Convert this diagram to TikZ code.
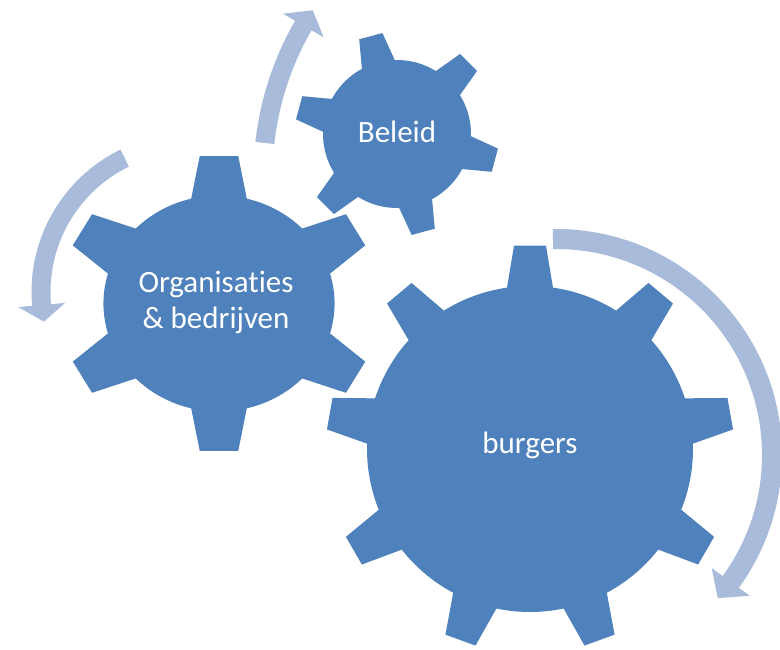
\documentclass[tikz,border=0pt]{standalone}
\usepackage{fontspec}
\setmainfont{Carlito}[Ligatures={NoCommon}]
\definecolor{gearblue}{RGB}{79,129,189}
\definecolor{arrowblue}{RGB}{168,187,218}
\tikzset{
  gearfill/.style={fill=gearblue},
  arrowfill/.style={fill=arrowblue},
  lbl/.style={text=white, align=center, font=\fontsize{31}{36}\selectfont, inner sep=0pt}
}
% #1 cx, #2 cy (screen), #3 xscale, #4 teeth, #5 first angle, #6 tip radius, #7 body radius, #8 tip half-width, #9 base half-width
\newcommand{\gearshape}[9]{%
  \begin{scope}[shift={(#1,-#2)}, xscale=#3]
    \pgfmathsetmacro{\gst}{360/#4}
    \pgfmathsetmacro{\gat}{asin(#8/#6)}
    \pgfmathsetmacro{\gab}{asin(#9/#7)}
    \pgfmathtruncatemacro{\gnn}{#4-1}
    \fill[gearfill] ({#5-\gab}:#7)
      \foreach \k in {0,...,\gnn}{
        -- ({#5+\k*\gst-\gat}:#6) -- ({#5+\k*\gst+\gat}:#6)
        -- ({#5+\k*\gst+\gab}:#7)
        arc[start angle={#5+\k*\gst+\gab}, end angle={#5+(\k+1)*\gst-\gab}, radius=#7]
      } -- cycle;
  \end{scope}}
% #1 cx, #2 cy (screen), #3 radius, #4 band half-width, #5 head half-width, #6 start angle, #7 head base angle, #8 tip angle
\newcommand{\circarrow}[8]{%
  \begin{scope}[shift={(#1,-#2)}]
    \fill[arrowfill] ({#6}:{#3+#4}) arc[start angle={#6}, end angle={#7}, radius={#3+#4}]
      -- ({#7}:{#3+#5}) -- ({#8}:{#3}) -- ({#7}:{#3-#5}) -- ({#7}:{#3-#4})
      arc[start angle={#7}, end angle={#6}, radius={#3-#4}] -- cycle;
  \end{scope}}
\begin{document}
\begin{tikzpicture}[x=1pt,y=1pt]
  \useasboundingbox (0,0) rectangle (780,-650);
  % arrows
  \circarrow{564}{176}{301}{9.5}{23.5}{173.7}{150}{146.6}
  \circarrow{190}{292}{149}{9.5}{23.5}{116}{185}{191.5}
  \circarrow{556}{455}{216}{10}{23.5}{90.8}{-36}{-41.5}
  % gears
  \gearshape{397}{134}{1}{6}{105}{102}{74}{12}{17}
  \gearshape{219}{303.5}{1.07}{6}{90}{148.5}{108}{18}{26}
  \gearshape{530}{449}{1}{9}{90}{204}{163}{16}{23}
  % labels
  \node[lbl] (bel) at (397,-132) {Beleid};
  \node[lbl] (org) at (216,-302) {Organisaties\\\& bedrijven};
  \node[lbl] (bur) at (530,-445) {burgers};
\end{tikzpicture}
\end{document}
